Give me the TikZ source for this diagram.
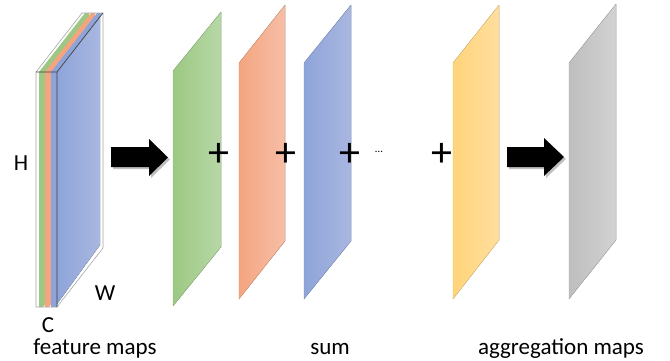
\documentclass[tikz,border=0pt]{standalone}
\usepackage{fontspec}
\setmainfont{Carlito}
\definecolor{cgreenL}{RGB}{157,200,131}
\definecolor{cgreenR}{RGB}{183,216,166}
\definecolor{corangeL}{RGB}{244,165,128}
\definecolor{corangeR}{RGB}{246,190,166}
\definecolor{cblueL}{RGB}{142,164,217}
\definecolor{cblueR}{RGB}{169,183,224}
\definecolor{cyellowL}{RGB}{255,212,122}
\definecolor{cyellowR}{RGB}{255,222,158}
\definecolor{cgrayL}{RGB}{190,190,190}
\definecolor{cgrayR}{RGB}{210,210,210}
\tikzset{
  lbl/.style={inner sep=0pt, anchor=base, font=\fontsize{23}{27}\selectfont},
  plusmark/.style={inner sep=0pt, font=\fontsize{42}{46}\selectfont},
  blockarrow/.style={fill=black},
  arrowshadow/.style={fill=black, opacity=0.25},
  edgeline/.style={draw=gray!70, line width=0.6pt},
  darkedge/.style={draw=black!75, line width=0.6pt}
}
\begin{document}
\begin{tikzpicture}[x=1pt,y=-1pt]
\useasboundingbox (0,0) rectangle (670,360);
% ---------- feature map stack ----------
\fill[white] (36,72) -- (82,13) -- (103,13) -- (103,248) -- (57,307) -- (36,307) -- cycle;
\fill[cgreenL] (39,72) -- (85,13) -- (89,13) -- (89,248) -- (43,307) -- (39,307) -- cycle;
\fill[corangeL] (45,72) -- (91,13) -- (95,13) -- (95,248) -- (49,307) -- (45,307) -- cycle;
\fill[cblueL] (51,72) -- (97,13) -- (103,13) -- (57,72) -- (57,307) -- (51,307) -- cycle;
\fill[left color=cblueL, right color=cblueR] (57,72) -- (100,16) -- (100,245) -- (57,304) -- cycle;
\draw[edgeline] (36,72) -- (82,13) -- (103,13) -- (103,248) -- (57,307) -- (36,307) -- cycle;
\draw[darkedge] (36,72) -- (57,72) -- (103,13) (57,72) -- (57,307);
\coordinate (stack) at (103,157);
\node[lbl] (H) at (21,170) {H};
\node[lbl] (W) at (105,300) {W};
\node[lbl] (C) at (48,332) {C};
\node[lbl] (fm) at (95,354) {feature maps};
% ---------- arrow 1 ----------
\fill[arrowshadow, shift={(2,2)}] (111,147) -- (149,147) -- (149,139) -- (168,157.5) -- (149,176) -- (149,167) -- (111,167) -- cycle;
\fill[blockarrow] (111,147) -- (149,147) -- (149,139) -- (168,157.5) -- (149,176) -- (149,167) -- (111,167) -- cycle;
% ---------- sum planes ----------
\fill[left color=cgreenL, right color=cgreenR, draw=cgreenL!90!black, line width=0.3pt] (173,71) -- (221,12) -- (221,247) -- (173,306) -- cycle;
\fill[left color=corangeL, right color=corangeR, draw=corangeL!90!black, line width=0.3pt] (239,63) -- (285,5) -- (285,241) -- (239,299) -- cycle;
\fill[left color=cblueL, right color=cblueR, draw=cblueL!90!black, line width=0.3pt] (304,63) -- (351,5) -- (351,241) -- (304,299) -- cycle;
\fill[left color=cyellowL, right color=cyellowR, draw=cyellowL!90!black, line width=0.3pt] (453,63) -- (499,5) -- (499,240) -- (453,299) -- cycle;
\node[plusmark] (p1) at (219,155) {+};
\node[plusmark] (p2) at (286,155) {+};
\node[plusmark] (p3) at (350,155) {+};
\node[inner sep=0pt, font=\fontsize{11}{13}\selectfont] (dots) at (379,152) {…};
\node[plusmark] (p4) at (442,155) {+};
\node[lbl] (sum) at (330,354) {sum};
% ---------- arrow 2 ----------
\fill[arrowshadow, shift={(2,2)}] (507,147) -- (544,147) -- (544,138) -- (564,157) -- (544,176) -- (544,167) -- (507,167) -- cycle;
\fill[blockarrow] (507,147) -- (544,147) -- (544,138) -- (564,157) -- (544,176) -- (544,167) -- (507,167) -- cycle;
% ---------- aggregation map ----------
\fill[left color=cgrayL, right color=cgrayR, draw=cgrayL!90!black, line width=0.3pt] (569,63) -- (616,4) -- (616,240) -- (569,299) -- cycle;
\node[lbl] (agg) at (561,354) {aggregation maps};
\end{tikzpicture}
\end{document}
